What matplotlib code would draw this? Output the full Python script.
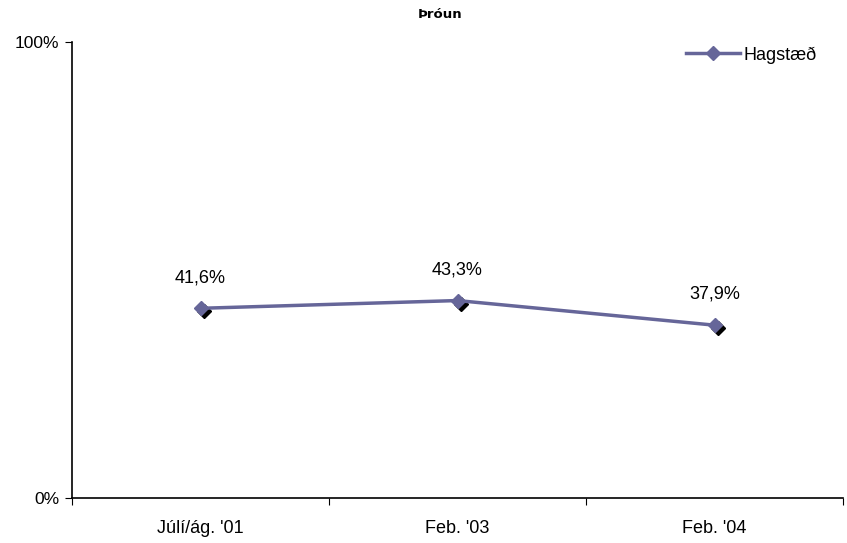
import matplotlib
matplotlib.use("Agg")
import matplotlib.pyplot as plt
import matplotlib.transforms as mtransforms
from matplotlib.ticker import FixedLocator

categories = ["Júlí/ág. '01", "Feb. '03", "Feb. '04"]
values = [41.6, 43.3, 37.9]
labels = ["41,6%", "43,3%", "37,9%"]
series_name = "Hagstæð"
title = "Þróun"

plt.rcParams['font.family'] = ['Liberation Sans Narrow', 'Liberation Sans', 'DejaVu Sans']

fig = plt.figure(figsize=(8.47, 5.43), dpi=100)
ax = fig.add_axes([72/847, 45/543, 771/847, 456/543])

color = '#666699'
x = list(range(len(categories)))
shadow = mtransforms.offset_copy(ax.transData, fig=fig, x=3, y=-3, units='dots')
ax.plot(x, values, linestyle='none', marker='D', markersize=7, color='black', transform=shadow, zorder=2)
ax.plot(x, values, color=color, linewidth=2.5, marker='D', markersize=7, label=series_name, zorder=3)

for xi, v, lab in zip(x, values, labels):
    ax.annotate(lab, (xi, v), xytext=(0, 16), textcoords='offset points', ha='center', va='bottom', fontsize=13)

ax.set_xlim(-0.5, len(categories) - 0.5)
ax.set_ylim(0, 100)
ax.set_yticks([0, 100])
ax.set_yticklabels(["0%", "100%"], fontsize=12.5)
ax.xaxis.set_major_locator(FixedLocator([-0.5, 0.5, 1.5, 2.5]))
ax.set_xticklabels([])
ax.xaxis.set_minor_locator(FixedLocator(x))
ax.set_xticklabels(categories, minor=True, fontsize=13)
ax.tick_params(axis='x', which='minor', length=0, pad=16)
ax.tick_params(axis='x', which='major', length=5, direction='out')
ax.tick_params(axis='y', length=5, direction='out', pad=4)
for s in ['top', 'right']:
    ax.spines[s].set_visible(False)
ax.spines['left'].set_linewidth(1.2)
ax.spines['bottom'].set_linewidth(1.2)

fig.text(440/847, 1 - 15/543, title, ha='center', va='center', fontsize=9.5, fontweight='bold', family=['DejaVu Sans'])

ax.legend(loc='center left', bbox_to_anchor=(686/847, 1 - 55/543), bbox_transform=fig.transFigure,
          frameon=False, fontsize=13, handlelength=3.0, handletextpad=0.2, borderaxespad=0, borderpad=0)

fig.savefig('out.png', dpi=100)
